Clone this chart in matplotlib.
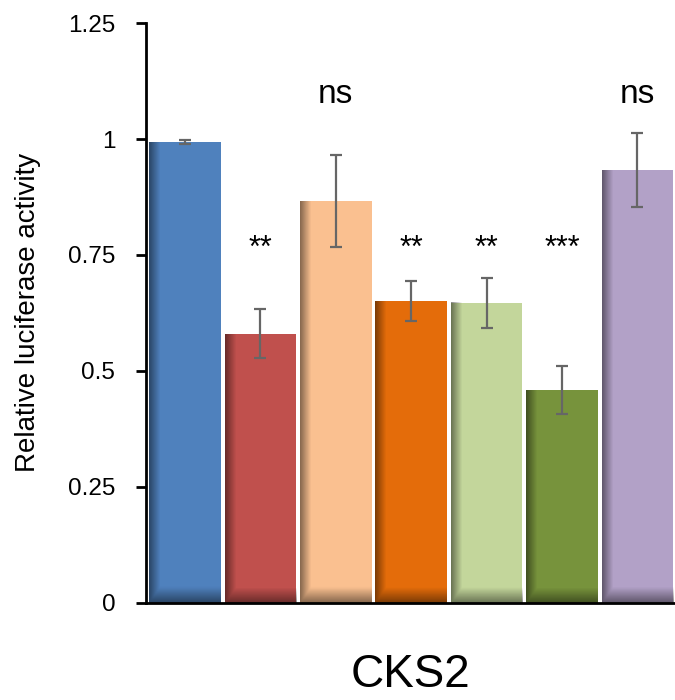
import numpy as np
import matplotlib.pyplot as plt

# data
values = [0.993, 0.580, 0.866, 0.651, 0.647, 0.459, 0.933]
errors = [0.004, 0.053, 0.099, 0.043, 0.054, 0.052, 0.079]
colors = ['#4F81BD', '#C0504D', '#FAC090', '#E46C0A', '#C3D69B', '#77933C', '#B2A1C7']
signif = ['', '**', 'ns', '**', '**', '***', 'ns']
sig_y = [0, 0.762, 1.095, 0.762, 0.762, 0.762, 1.095]
yticks = [0, 0.25, 0.5, 0.75, 1, 1.25]
ytick_labels = ['0', '0.25', '0.5', '0.75', '1', '1.25']

plt.rcParams['font.family'] = ['Liberation Sans', 'DejaVu Sans']

fig = plt.figure(figsize=(6.75, 7), dpi=100)
ax = fig.add_axes([0.216, 0.139, 0.784, 0.828])

x = np.arange(len(values))
width = 0.95
ax.bar(x, values, width=width, color=colors, zorder=1)

# darker shading along left and bottom edges of each bar (Excel style)
nx, ny = 60, 200
for xi, v in zip(x, values):
    left = xi - width / 2
    gx = np.linspace(0, 1, nx)
    gy = np.linspace(0, 1, ny)
    fx = np.clip(1 - gx / 0.15, 0, 1)
    fy_px = gy * v * 464
    fy = np.clip(1 - fy_px / 15, 0, 1)
    a = np.maximum(fx[None, :], fy[:, None]) * 0.45
    img = np.zeros((ny, nx, 4))
    img[..., 3] = a
    ax.imshow(img, extent=(left, left + width, 0, v), origin='lower',
              aspect='auto', zorder=2, interpolation='bilinear')

ax.errorbar(x, values, yerr=errors, fmt='none', ecolor='#666666',
            elinewidth=1.6, capsize=4, capthick=1.6, zorder=3)

for xi, s, sy in zip(x, signif, sig_y):
    if s == 'ns':
        ax.text(xi, sy, s, ha='center', va='center', fontsize=24)
    elif s:
        ax.text(xi, sy, s, ha='center', va='center', fontsize=22)

ax.set_xlim(-0.52, 6.5)
ax.set_ylim(0, 1.25)
ax.set_yticks(yticks)
ax.set_yticklabels(ytick_labels, fontsize=17.5)
ax.set_xticks([])
ax.set_xlabel('CKS2', fontsize=33, labelpad=36)
ax.set_ylabel('Relative luciferase activity', fontsize=20, labelpad=19)
for side in ['top', 'right']:
    ax.spines[side].set_visible(False)
ax.spines['left'].set_linewidth(2)
ax.spines['bottom'].set_linewidth(2)
ax.tick_params(axis='y', length=7, width=2, pad=15)

fig.savefig('out.png', dpi=100)
